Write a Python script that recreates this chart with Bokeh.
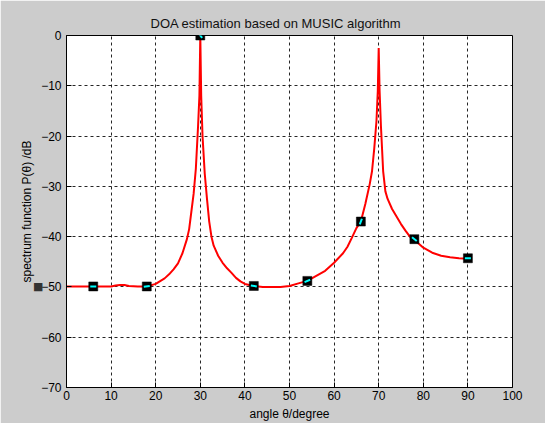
import numpy as np
from bokeh.plotting import figure
from bokeh.models import FixedTicker, Title, LinearAxis
from bokeh.embed import file_html
from bokeh.resources import INLINE

# spectrum (angle in degrees, P in dB)
angle = [0, 2, 4, 6, 8, 10, 11, 12, 13, 14, 16, 18, 20, 22, 23, 24, 25, 26, 27, 27.5, 28, 28.5,
         29, 29.5, 29.8, 30, 30.2, 30.5, 31, 31.5, 32, 32.5, 33, 34, 35, 36, 37, 38, 39, 40,
         42, 44, 46, 48, 50, 52, 54, 56, 58, 60, 62, 63, 64, 65, 66, 67, 68, 68.5, 69, 69.5,
         69.8, 70, 70.2, 70.5, 71, 71.5, 72, 73, 74, 75, 76, 77, 78, 79, 80, 82, 84, 86, 88, 90]
spectrum = [-49.9, -49.9, -49.9, -49.9, -49.9, -49.9, -49.7, -49.6, -49.6, -49.8, -49.9, -49.9,
            -49.4, -48.3, -47.5, -46.5, -45.3, -43.3, -40.5, -38.5, -35.0, -31.5,
            -26.5, -18.0, -12.0, 0.0, -12.0, -20.0, -27.5, -32.5, -37.0, -40.0, -41.8, -43.8,
            -45.2, -46.3, -47.2, -48.2, -48.9, -49.4,
            -49.8, -50.0, -50.0, -50.0, -49.8, -49.3, -48.8, -47.8, -46.8, -45.2, -43.3, -42.0,
            -40.2, -38.3, -37.0, -33.5, -29.5, -27.0, -22.5, -17.0,
            -11.0, -2.5, -11.0, -18.0, -27.0, -31.0, -32.5, -34.5, -36.0, -37.5, -38.8, -40.0,
            -40.7, -41.4, -42.2, -43.2, -43.8, -44.1, -44.3, -44.4]

# marker positions
marker_angle = [6, 18, 30, 42, 54, 66, 78, 90]
marker_value = [-49.9, -49.9, 0.0, -49.8, -48.8, -37.0, -40.5, -44.3]

x_ticks = [0, 10, 20, 30, 40, 50, 60, 70, 80, 90, 100]
y_ticks = [-70, -60, -50, -40, -30, -20, -10, 0]

FW, FH = 446, 353
px_per_x = FW / 100.0
px_per_y = FH / 70.0

p = figure(width=545, height=423, x_range=(0, 100), y_range=(-70, 0),
           output_backend="svg", toolbar_location=None,
           min_border_left=66, min_border_right=33, min_border_top=35, min_border_bottom=35)
p.background_fill_color = "white"
p.border_fill_color = "#cccccc"
p.outline_line_color = "black"
p.outline_line_width = 1

t = Title(text="DOA estimation based on MUSIC algorithm", align="left",
          text_font="Liberation Sans", text_font_size="13px", text_font_style="normal",
          text_color="#111111", offset=84, standoff=9)
p.add_layout(t, "above")

p.line(angle, spectrum, line_color="red", line_width=2)

# markers: black squares with a short cyan stroke along the curve
p.scatter(marker_angle, marker_value, marker="square", size=9, fill_color="black",
          line_color="black", line_width=0.5)
xs, ys = [], []
a = np.array(angle, dtype=float)
s = np.array(spectrum, dtype=float)
for m, v in zip(marker_angle, marker_value):
    y0 = np.interp(m - 0.3, a, s)
    y1 = np.interp(m + 0.3, a, s)
    dxp = 0.6 * px_per_x
    dyp = (y1 - y0) * px_per_y
    n = np.hypot(dxp, dyp)
    ux, uy = dxp / n * 3.0, dyp / n * 3.0
    xs.append([m - ux / px_per_x, m + ux / px_per_x])
    ys.append([v - uy / px_per_y, v + uy / px_per_y])
p.multi_line(xs, ys, line_color="cyan", line_width=2)

for ax in (p.xaxis, p.yaxis):
    ax.major_tick_in = 5
    ax.major_tick_out = 0
    ax.minor_tick_in = 0
    ax.minor_tick_out = 0
    ax.axis_line_color = "black"
    ax.major_tick_line_color = "black"
    ax.major_label_text_font = "Liberation Sans"
    ax.major_label_text_font_size = "12px"
    ax.major_label_text_color = "black"
    ax.axis_label_text_font = "Liberation Sans"
    ax.axis_label_text_font_size = "12px"
    ax.axis_label_text_font_style = "normal"
    ax.axis_label_text_color = "black"

p.xaxis.ticker = FixedTicker(ticks=x_ticks)
p.yaxis.ticker = FixedTicker(ticks=y_ticks)
p.xaxis.axis_label = "angle \u03b8/degree"
p.xaxis.major_label_standoff = 3
p.xaxis.axis_label_standoff = 4
p.yaxis.major_label_standoff = 5

# outer left axis: holds the small dark square at -50 and the y label
outer = LinearAxis(ticker=FixedTicker(ticks=[-50]),
                   major_label_overrides={-50: "\u25a0"},
                   axis_line_color=None, major_tick_line_color=None,
                   minor_tick_line_color=None, major_tick_in=0, major_tick_out=0,
                   major_label_standoff=-5,
                   major_label_text_font="DejaVu Sans", major_label_text_font_size="11px",
                   major_label_text_color="#333333",
                   axis_label="spectrum function P(\u03b8) /dB",
                   axis_label_text_font="Liberation Sans", axis_label_text_font_size="12px",
                   axis_label_text_font_style="normal", axis_label_text_color="black",
                   axis_label_standoff=-4)
p.add_layout(outer, "left")

for g in (p.xgrid, p.ygrid):
    g.grid_line_color = "black"
    g.grid_line_alpha = 0.85
    g.grid_line_dash = "3 3"
    g.grid_line_width = 1

open("out.html", "w").write(file_html(p, INLINE))
